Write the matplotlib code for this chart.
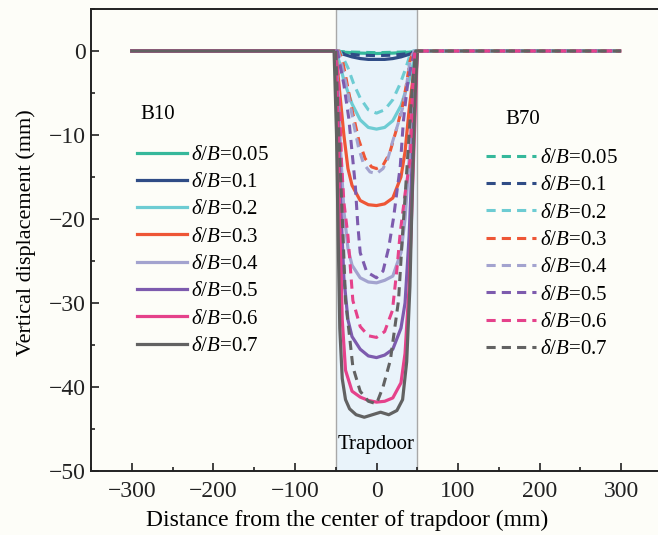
import matplotlib
matplotlib.use("Agg")
import matplotlib.pyplot as plt
from matplotlib.ticker import MultipleLocator

plt.rcParams['font.family'] = ['Liberation Serif', 'DejaVu Serif']
plt.rcParams['mathtext.fontset'] = 'custom'
plt.rcParams['mathtext.rm'] = 'Liberation Serif'
plt.rcParams['mathtext.it'] = 'Liberation Serif:italic'

ratios = ['0.05', '0.1', '0.2', '0.3', '0.4', '0.5', '0.6', '0.7']
colors = ['#35B89B', '#2F4C86', '#6DCCD3', '#EE5636', '#A3A3CF',
          '#7D5BAE', '#E5428B', '#626262']

# B10 (solid) curves: x points, displacement values
x_b10 = {
    '0.05': [-300, -50, -40, -20, 0, 20, 40, 50],
    '0.1': [-300, -50, -40, -30, -20, -10, 0, 10, 20, 30, 40, 50],
    '0.2': [-300, -50, -45, -40, -30, -20, -10, 0, 10, 20, 30, 40, 45, 50],
    '0.3': [-300, -50, -47, -44, -40, -35, -30, -20, -10, 0, 10, 20, 30, 35, 40, 45, 50],
    '0.4': [-300, -50, -47, -44, -40, -35, -30, -20, -10, 0, 10, 20, 30, 35, 40, 45, 50],
    '0.5': [-300, -50, -47, -44, -40, -35, -30, -20, -10, 0, 10, 20, 30, 35, 40, 45, 50],
    '0.6': [-300, -50, -47, -45, -42, -38, -30, -20, -10, 0, 10, 20, 30, 35, 40, 45, 50],
    '0.7': [-300, -52, -49, -47, -45, -42, -38, -33, -25, -15, -5, 5, 15, 25, 32, 37, 41, 44, 47, 50],
}
y_b10 = {
    '0.05': [0, 0, -0.15, -0.25, -0.3, -0.25, -0.15, 0],
    '0.1': [0, 0, -0.4, -0.7, -0.9, -1.0, -1.0, -1.0, -0.9, -0.7, -0.4, 0],
    '0.2': [0, 0, -1.5, -3.5, -6.3, -8.2, -9.1, -9.3, -9.1, -8.3, -6.5, -3.5, -1.5, 0],
    '0.3': [0, 0, -3, -6, -10, -14, -16, -17.8, -18.3, -18.4, -18.2, -17.5, -15, -12, -7, -3, 0],
    '0.4': [0, 0, -5, -12, -19, -23.5, -25.5, -27, -27.5, -27.6, -27.3, -26.8, -24, -20, -13, -5, 0],
    '0.5': [0, 0, -8, -18, -27, -32, -34, -35.5, -36.3, -36.5, -36.2, -35.5, -33, -30, -22, -10, 0],
    '0.6': [0, 0, -10, -20, -32, -38, -40.5, -41.2, -41.6, -41.8, -41.7, -41.3, -39.5, -36, -28, -14, 0],
    '0.7': [0, 0, -10, -22, -33, -39, -41.5, -42.6, -43.3, -43.6, -43.3, -43.0, -43.3, -42.8, -41.5, -37, -28, -16, -6, 0],
}

# B70 (dashed) curves
x_b70 = {
    '0.05': [-50, -40, -20, 0, 20, 40, 50, 300],
    '0.1': [-50, -40, -20, 0, 20, 40, 50, 300],
    '0.2': [-50, -45, -40, -35, -28, -20, -10, 0, 10, 20, 29, 35, 40, 45, 50, 300],
    '0.3': [-50, -46, -42, -37, -30, -22, -14, -6, 0, 8, 16, 24, 32, 37, 41, 45, 50, 300],
    '0.4': [-50, -47, -44, -38, -33, -28, -22, -16, -8, 0, 8, 14, 20, 26, 32, 37, 41, 46, 50, 300],
    '0.5': [-50, -48, -44, -40, -34, -30, -26, -23, -20, -12, 0, 8, 15, 21, 26, 29, 33, 38, 43, 47, 50, 300],
    '0.6': [-50, -47, -45, -43, -40, -35, -29, -20, -10, 0, 10, 19.5, 25, 29, 35, 41.5, 44, 47, 50, 300],
    '0.7': [-50, -47, -44, -41, -38, -33, -29, -20, -10, 0, 8, 17, 27, 32, 35, 40, 44, 48, 50, 300],
}
y_b70 = {
    '0.05': [0, -0.1, -0.15, -0.2, -0.15, -0.1, 0, 0],
    '0.1': [0, -0.3, -0.5, -0.55, -0.5, -0.3, 0, 0],
    '0.2': [0, 0, -1, -2, -3.9, -5.6, -7, -7.4, -7, -5.8, -3.9, -2.3, -0.8, 0, 0, 0],
    '0.3': [0, 0, -1, -3.4, -7, -10.5, -12.8, -13.8, -14, -13.6, -12.2, -9.5, -6.5, -3.8, -1.2, 0, 0, 0],
    '0.4': [0, 0, -1, -3.6, -6, -8.7, -11.5, -13.4, -14.4, -14.6, -14, -12.8, -10.7, -8.8, -6.8, -4, -1.2, 0, 0, 0],
    '0.5': [0, 0, -2, -4, -8, -12, -16, -20.6, -24, -26.3, -27, -26.2, -23.4, -19.8, -16, -13.9, -8.3, -4, -1.5, 0, 0, 0],
    '0.6': [0, -3, -7, -13, -18, -22, -29.7, -32.8, -33.9, -34.1, -33.4, -30.9, -26, -21.7, -17, -12.7, -5, 0, 0, 0],
    '0.7': [0, -8, -15, -22, -29.7, -34, -37.6, -40.5, -41.7, -42, -40, -36.8, -29.7, -21.7, -17.4, -10, -4, 0, 0, 0],
}

fig = plt.figure(figsize=(6.58, 5.35), dpi=100, facecolor='#FDFDF8')
ax = fig.add_axes([91 / 658, 64 / 535, 571 / 658, 462 / 535])
ax.set_facecolor('#FDFDF8')

ax.axvspan(-50, 50, facecolor='#E9F3FA', edgecolor='#A8A8A8', lw=1.0, zorder=0)

solid_handles = []
for r, c in zip(ratios, colors):
    h, = ax.plot(x_b10[r], y_b10[r], color=c, lw=2.3, solid_joinstyle='round',
                 label=r'$\delta/B$=' + r)
    solid_handles.append(h)

dash_handles = []
for r, c in zip(ratios, colors):
    h, = ax.plot(x_b70[r], y_b70[r], color=c, lw=2.2, dashes=(3, 2),
                 label=r'$\delta/B$=' + r)
    dash_handles.append(h)

ax.set_xlim(-350, 350)
ax.set_ylim(-50, 5)
ax.xaxis.set_major_locator(MultipleLocator(100))
ax.xaxis.set_minor_locator(MultipleLocator(50))
ax.yaxis.set_major_locator(MultipleLocator(10))
ax.yaxis.set_minor_locator(MultipleLocator(5))
ax.tick_params(which='both', direction='in', width=1.2, colors='#222222',
               labelsize=17, top=False, right=False)
ax.tick_params(which='major', length=6)
ax.tick_params(which='minor', length=3)
ax.tick_params(axis='x', pad=7)
for s in ['left', 'bottom', 'top']:
    ax.spines[s].set_linewidth(1.4)
    ax.spines[s].set_color('#222222')
ax.spines['right'].set_visible(False)

ax.set_xlabel('Distance from the center of trapdoor (mm)', fontsize=17)
ax.xaxis.set_label_coords(0.448, -0.084)
ax.set_ylabel('Vertical displacement (mm)', fontsize=16)
ax.yaxis.set_label_coords(-0.096, 0.517)

leg1 = ax.legend(handles=solid_handles, loc='upper left', bbox_to_anchor=(0.08, 0.705),
                 frameon=False, fontsize=15, handlelength=2.4, handletextpad=0.2,
                 labelspacing=0.37, borderpad=0, borderaxespad=0)
ax.add_artist(leg1)
ax.legend(handles=dash_handles, loc='upper left', bbox_to_anchor=(0.692, 0.698),
          frameon=False, fontsize=15, handlelength=2.4, handletextpad=0.2,
          labelspacing=0.37, borderpad=0, borderaxespad=0)

ax.text(0.086, 0.772, 'B10', transform=ax.transAxes, fontsize=15, va='center', ha='left')
ax.text(0.725, 0.76, 'B70', transform=ax.transAxes, fontsize=15, va='center', ha='left')
ax.text(0, -46.8, 'Trapdoor', fontsize=15, ha='center', va='center')

fig.savefig('out.png', dpi=100, facecolor=fig.get_facecolor())
